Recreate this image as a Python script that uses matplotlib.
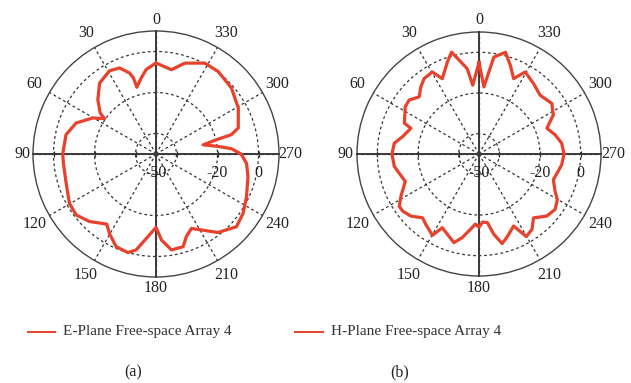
import numpy as np
import matplotlib
matplotlib.use("Agg")
import matplotlib.pyplot as plt
from matplotlib.lines import Line2D

# ---- radiation pattern data (angle in degrees, gain in dB) ----
e_theta = [0, 6.6, 11, 16, 16.5, 18.1, 23, 29.2, 38.5, 47,
           53.7, 55.5, 60.3, 68.8, 77.9, 90, 95.8, 108.1, 119.7, 127.4,
           135.5, 144.9, 149.6, 156.7, 164.1, 168.3, 174.4, 180, 183.7, 189.2,
           196.3, 200.2, 205.5, 210.9, 218.3, 227.9, 235.8, 244.8, 256.2, 264.1,
           270, 274, 277, 281, 283.3, 284.4, 287.6, 299.2, 311.2, 323.1,
           331.8, 342.4, 349.6, 360]
e_gain = [-5.6, -8.5, -12.2, -16.1, -11.4, -8.4, -4.4, -3.5, -5.8, -11.2,
          -16.2, -19.6, -14.5, -8.2, -5.1, -4.5, -4.6, -3.9, -1.4, -1.0,
          -3.8, -8.2, -5.1, -0.8, 0.0, -2.2, -9.5, -14.2, -7.9, -2.6,
          -2.9, -7.1, -9.8, -6.8, -1.2, 2.9, 1.4, -1.2, -3.8, -5.6,
          -8.5, -13.1, -19.5, -26.6, -19.7, -12.0, -7.9, -4.0, -1.1, 0.4,
          0.3, -3.5, -8.2, -5.6]

h_theta = [0, 5.2, 7.9, 15.1, 19, 26, 29.6, 36, 40.9, 46.3,
           52.3, 57.3, 67.6, 69.3, 77.1, 82.7, 90, 98.4, 110.4, 118.5,
           123.3, 126.8, 132.4, 138.5, 142.9, 150.2, 153.5, 164.2, 168.6, 173.5,
           177, 180, 183, 187, 190.5, 194.5, 198.8, 205.7, 209.8, 215.1,
           220.5, 227.5, 233.9, 239.8, 243.8, 250.9, 262.5, 270, 277.5, 284.2,
           290.8, 297.7, 304.8, 313.9, 322.2, 330.6, 335.3, 340.5, 345.4, 351.3,
           355.8, 360]
h_gain = [-5.0, -16.0, -7.6, 1.9, -2.2, -8.8, -3.6, -4.1, -6.3, -9.3,
          -6.6, -6.9, -10.3, -14.2, -11.5, -8.0, -7.2, -7.9, -11.3, -6.3,
          -3.1, -3.1, -4.7, -8.1, -6.6, -3.9, -9.5, -4.7, -8.0, -12.7,
          -15.5, -14.0, -16.5, -16.0, -9.8, -4.5, -7.0, -10.7, -3.2, -4.7,
          -8.7, -4.8, -3.7, -5.4, -8.3, -11.3, -9.0, -8.2, -9.0, -11.4,
          -14.3, -8.7, -6.4, -8.3, -6.2, -3.7, -9.2, -3.8, 1.7, -1.8,
          -16.9, -5.0]

angle_ticks = [0, 30, 60, 90, 120, 150, 180, 210, 240, 270, 300, 330]
ring_levels = [-40, -20, 0]
ring_labels = {-50: "-50", -20: "-20", 0: "0"}
r_min, r_max = -50, 10

legend_texts = ["E-Plane Free-space Array 4", "H-Plane Free-space Array 4"]
panel_tags = ["(a)", "(b)"]

CURVE = "#e8412c"
INK = "#333333"
SERIF = "Liberation Serif"

W, H = 631, 383
fig = plt.figure(figsize=(W / 100, H / 100), dpi=100)


def px_box(cx, cy, rad):
    return [(cx - rad) / W, (H - cy - rad) / H, 2 * rad / W, 2 * rad / H]


def polar_panel(box, theta, gain, rad_px):
    ax = fig.add_axes(box, projection="polar")
    ax.set_theta_zero_location("N")
    ax.set_theta_direction(1)
    ax.set_rlim(r_min, r_max)

    # dashed rings and spokes
    ax.set_rgrids(ring_levels, labels=[""] * len(ring_levels))
    ax.set_thetagrids(angle_ticks, labels=[""] * len(angle_ticks))
    ax.grid(True, color=INK, linestyle=(0, (2.2, 2.2)), linewidth=0.9)
    ax.tick_params(axis="both", length=0)
    ax.spines["polar"].set_color("#444444")
    ax.spines["polar"].set_linewidth(1.0)

    # solid principal axes through the centre
    ax.plot([0, 1], [0.5, 0.5], transform=ax.transAxes, color="#3a3a3a",
            lw=1.4, zorder=3, clip_on=False)
    ax.plot([0.5, 0.5], [0, 1], transform=ax.transAxes, color="#3a3a3a",
            lw=1.4, zorder=3, clip_on=False)

    # small ticks where rings cross the horizontal axis
    for lvl in ring_levels:
        for a in (np.pi / 2, 3 * np.pi / 2):
            ax.plot([a], [lvl], marker="|", ms=5, mew=0.9, color=INK,
                    zorder=3, clip_on=False)

    # pattern
    th = np.deg2rad(theta)
    ax.plot(th, gain, color=CURVE, lw=2.3, solid_joinstyle="round",
            zorder=4)

    # angle labels outside the circle
    per_db = rad_px / (r_max - r_min)
    for a in angle_ticks:
        off = 134 if a % 90 == 0 else 140
        r_lab = r_min + off / per_db
        ax.text(np.deg2rad(a), r_lab, str(a), ha="center", va="center",
                fontsize=11.5, family=SERIF, color="#222222", clip_on=False)

    # radial level labels below the right half-axis
    for lvl, txt in ring_labels.items():
        ax.annotate(txt, xy=(3 * np.pi / 2, lvl), xytext=(0, -13.5),
                    textcoords="offset points", ha="center", va="center",
                    fontsize=11.5, family=SERIF, color="#222222",
                    annotation_clip=False, zorder=5)
    return ax


polar_panel(px_box(156, 154, 123), e_theta, e_gain, 123)
polar_panel(px_box(479, 154, 122), h_theta, h_gain, 122)

# legends and panel tags
for (x0, x1, tx), label, tag, tagx in zip(
        [(28, 55, 63), (295, 323, 331)], legend_texts, panel_tags, [133, 400]):
    y = 1 - 332 / H
    fig.add_artist(Line2D([x0 / W, x1 / W], [y, y], color=CURVE, lw=1.4))
    fig.text(tx / W, y, label, ha="left", va="center", fontsize=11,
             family=SERIF, color="#333333")
    fig.text(tagx / W, 1 - 372 / H, tag, ha="center", va="center",
             fontsize=11.5, family=SERIF, color="#222222")

fig.savefig("out.png", dpi=100)
